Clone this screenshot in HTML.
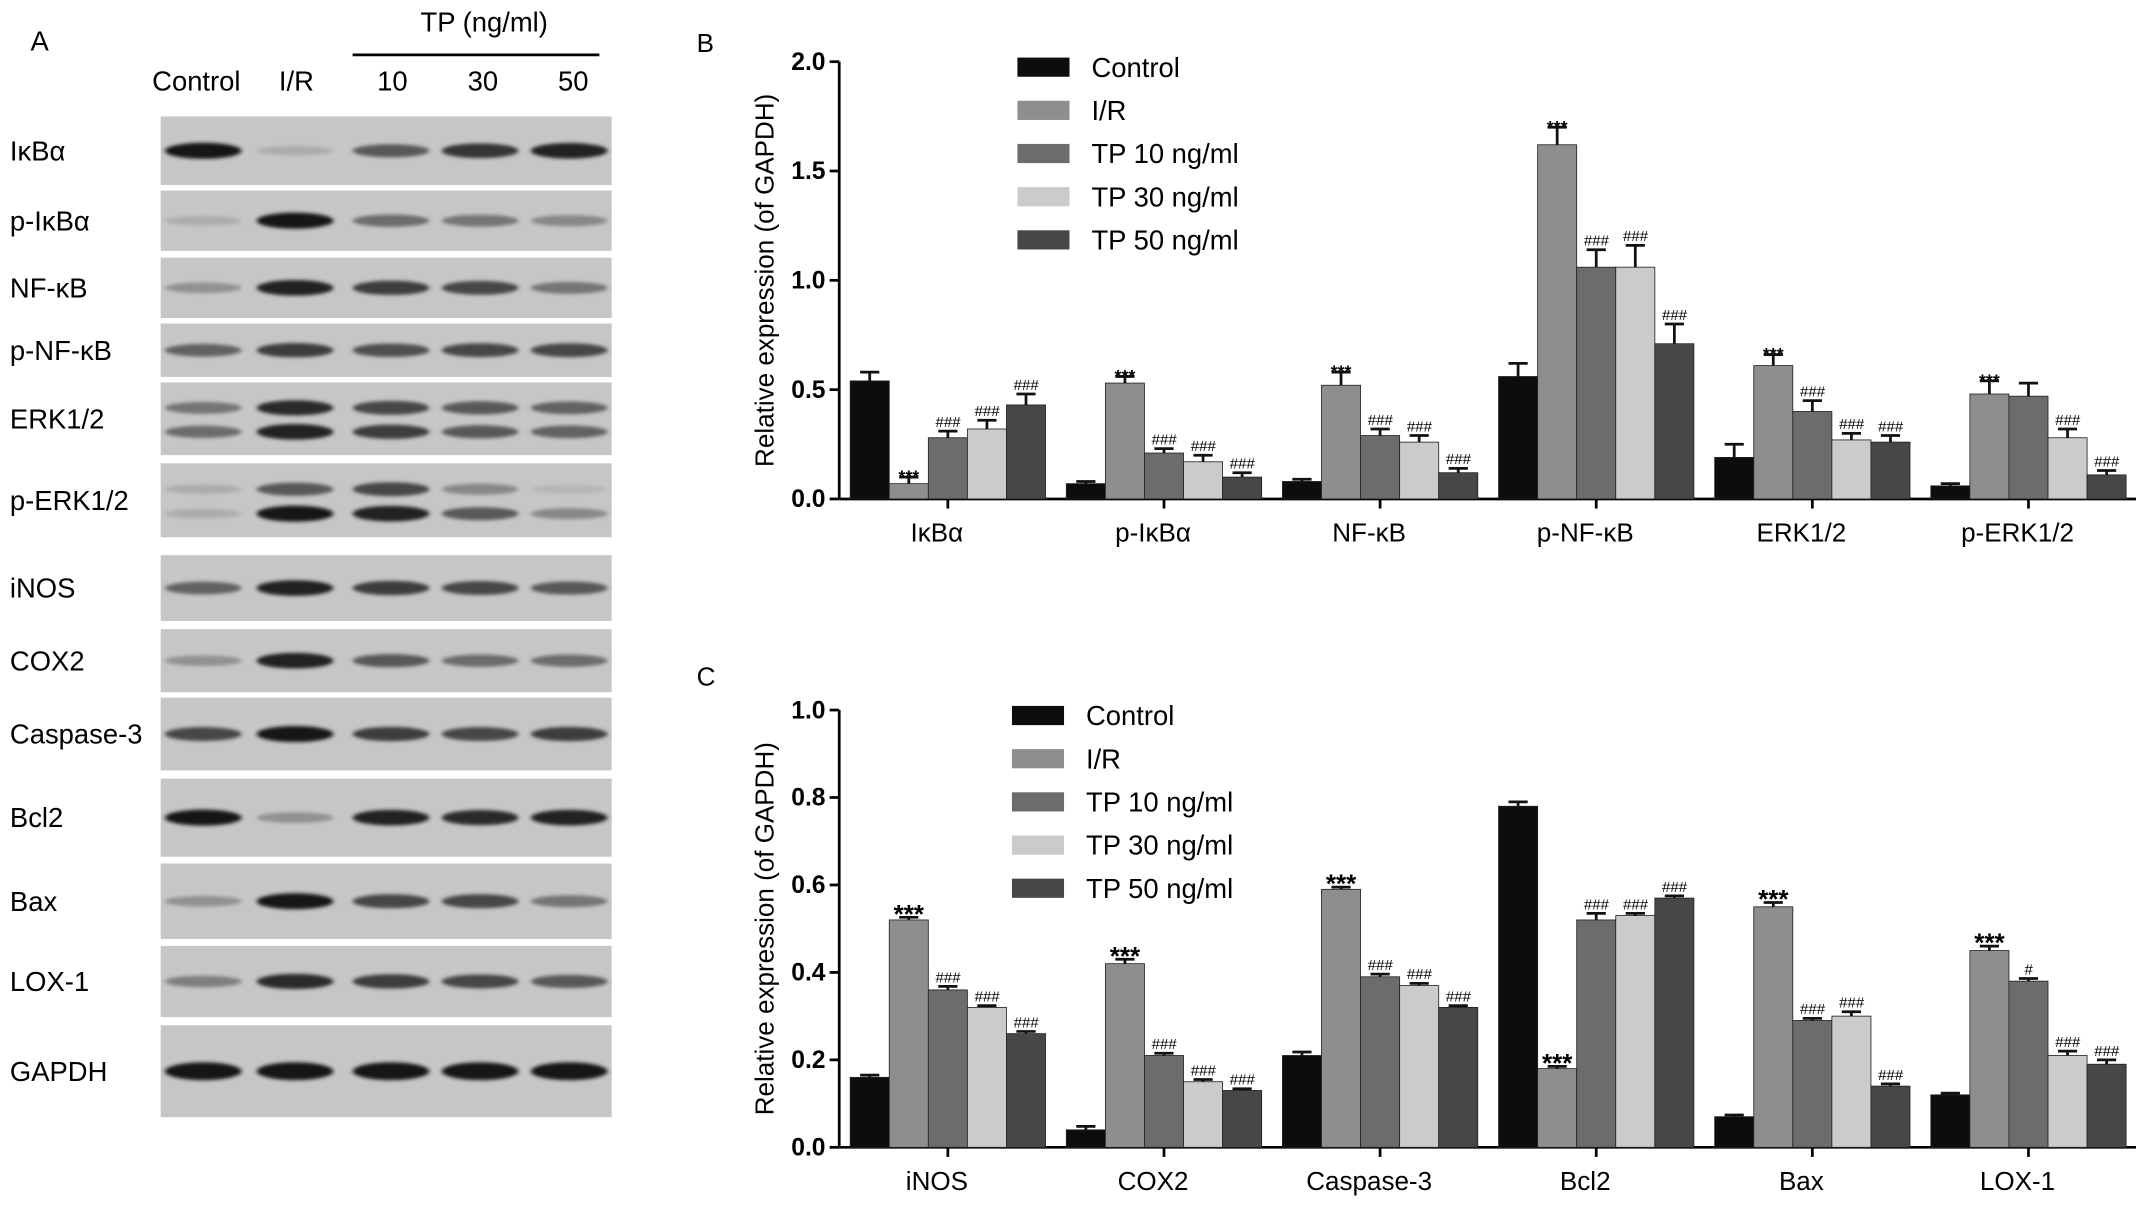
<!DOCTYPE html>
<html><head><meta charset="utf-8"><style>
html,body{margin:0;padding:0;background:#fff;}
svg{display:block;font-family:"Liberation Sans",Arial,sans-serif;}
</style></head><body>
<svg id="fig" width="2150" height="1209" viewBox="0 0 1568 882" xmlns="http://www.w3.org/2000/svg">
<defs><filter id="blur" x="-20%" y="-100%" width="140%" height="300%"><feGaussianBlur stdDeviation="1.6 1.4"/></filter></defs>
<g id="panelA"></g>
<g id="panelB"></g>
<g id="panelC"></g>
</svg>
<script>
const NS="http://www.w3.org/2000/svg";
// ---- chart data ----
const seriesNames=["Control","I/R","TP 10 ng/ml","TP 30 ng/ml","TP 50 ng/ml"];
const catsB=["IκBα","p-IκBα","NF-κB","p-NF-κB","ERK1/2","p-ERK1/2"];
const controlB=[0.54,0.07,0.08,0.56,0.19,0.06];
const irB=[0.07,0.53,0.52,1.62,0.61,0.48];
const tp10B=[0.28,0.21,0.29,1.06,0.40,0.47];
const tp30B=[0.32,0.17,0.26,1.06,0.27,0.28];
const tp50B=[0.43,0.10,0.12,0.71,0.26,0.11];
const errB=[[0.04,0.01,0.01,0.06,0.06,0.01],[0.03,0.03,0.06,0.08,0.05,0.06],[0.03,0.02,0.03,0.08,0.05,0.06],[0.04,0.03,0.03,0.10,0.03,0.04],[0.05,0.02,0.02,0.09,0.03,0.02]];
const marksB=[["","","","","",""],["***","***","***","***","***","***"],["###","###","###","###","###",""],["###","###","###","###","###","###"],["###","###","###","###","###","###"]];
const ticksB=[0.0,0.5,1.0,1.5,2.0];
const catsC=["iNOS","COX2","Caspase-3","Bcl2","Bax","LOX-1"];
const controlC=[0.16,0.04,0.21,0.78,0.07,0.12];
const irC=[0.52,0.42,0.59,0.18,0.55,0.45];
const tp10C=[0.36,0.21,0.39,0.52,0.29,0.38];
const tp30C=[0.32,0.15,0.37,0.53,0.30,0.21];
const tp50C=[0.26,0.13,0.32,0.57,0.14,0.19];
const errC=[[0.005,0.008,0.008,0.01,0.004,0.004],[0.006,0.01,0.005,0.005,0.01,0.01],[0.008,0.005,0.006,0.015,0.005,0.006],[0.004,0.005,0.005,0.005,0.01,0.01],[0.005,0.004,0.004,0.005,0.005,0.01]];
const marksC=[["","","","","",""],["***","***","***","***","***","***"],["###","###","###","###","###","#"],["###","###","###","###","###","###"],["###","###","###","###","###","###"]];
const ticksC=[0.0,0.2,0.4,0.6,0.8,1.0];
const colors=["#0d0d0d","#8e8e8e","#6c6c6c","#cbcbcb","#474747"];

function el(tag,attrs,parent,txt){const e=document.createElementNS(NS,tag);for(const k in attrs)e.setAttribute(k,attrs[k]);if(txt!==undefined)e.textContent=txt;parent.appendChild(e);return e;}

function chart(g,cfg){
  const {x0,x1,y0,yTop,vmax,ticks,cats,series,errs,marks,fmt,label,letter,legY,legX}=cfg;
  const ys=v=>y0-(v/vmax)*(y0-yTop);
  const gw=(x1-x0)/cats.length, bw=28.5, gx=i=>x0+8+i*gw;
  let t=el("text",{x:letter[0],y:letter[1],"font-size":19},g,label);
  
  
  let ax=el("line",{x1:x0,y1:yTop,x2:x0,y2:y0,stroke:"#000","stroke-width":2},g);
  
  
  let xa=el("line",{x1:x0,y1:y0,x2:x1,y2:y0,stroke:"#000","stroke-width":2},g);
  
  
  ticks.forEach(v=>{
    let tl=el("line",{x1:x0-7,y1:ys(v),x2:x0,y2:ys(v),stroke:"#000","stroke-width":2},g);
    
    
    let tt=el("text",{x:x0-10,y:ys(v)+6,"text-anchor":"end","font-size":18,"font-weight":"bold"},g,v.toFixed(1));
    
    
  });
  let yt=el("text",{transform:`translate(${x0-48},${(y0+yTop)/2}) rotate(-90)`,"text-anchor":"middle","font-size":19},g,"Relative expression (of GAPDH)");
  
  
  cats.forEach((c,i)=>{
    const cx=gx(i)+bw*2.5;
    let tk=el("line",{x1:cx,y1:y0,x2:cx,y2:y0+7,stroke:"#000","stroke-width":2},g);
    
    
    let lt=el("text",{x:cx-8,y:y0+31,"text-anchor":"middle","font-size":19},g,c);
    
    
    series.forEach((s,j)=>{
      const bx=gx(i)+j*bw, v=s[i], top=ys(v), e=errs[j][i], ey=ys(v+e);
      let r=el("rect",{x:bx,y:top,width:bw,height:y0-top,fill:colors[j],stroke:"#222","stroke-width":0.6},g);
      
      
      let eb=el("path",{d:`M${bx+bw/2},${top}V${ey}M${bx+bw/2-7},${ey}H${bx+bw/2+7}`,stroke:"#111","stroke-width":2,fill:"none"},g);
      
      
      const m=marks[j][i];
      if(m){
        const isStar=m[0]==="*";
        let mt=el("text",{x:bx+bw/2,y:ey-(isStar?-4:3),"text-anchor":"middle","font-size":isStar?cfg.starSize:11,"font-weight":isStar?"bold":"normal","font-style":isStar?"normal":"italic"},g,m);
        
        
      }
    });
  });
  seriesNames.forEach((n,j)=>{
    const yy=legY+j*31.5;
    let lr=el("rect",{x:legX,y:yy-7,width:38,height:14,fill:colors[j]},g);
    
    
    let lt=el("text",{x:legX+54,y:yy+7,"font-size":20},g,n);
    
    
  });
}
chart(document.getElementById("panelB"),{x0:612,x1:1558,y0:364,yTop:45,vmax:2.0,ticks:ticksB,cats:catsB,series:[controlB,irB,tp10B,tp30B,tp50B],errs:errB,marks:marksB,label:"B",letter:[508,38],legY:49,legX:742,starSize:13});
chart(document.getElementById("panelC"),{x0:612,x1:1558,y0:837,yTop:518,vmax:1.0,ticks:ticksC,cats:catsC,series:[controlC,irC,tp10C,tp30C,tp50C],errs:errC,marks:marksC,label:"C",letter:[508,500],legY:522,legX:738,starSize:19});

// ---- blot panel ----
const A=document.getElementById("panelA");
const lanes=[148,215,285,350,415];
const rows=[
 ["IκBα",85,135,[[0.95,0.15,0.6,0.8,0.9]]],
 ["p-IκBα",139,183,[[0.15,0.95,0.5,0.45,0.35]]],
 ["NF-κB",188,232,[[0.3,0.9,0.75,0.7,0.45]]],
 ["p-NF-κB",236,275,[[0.55,0.75,0.65,0.7,0.7]]],
 ["ERK1/2",279,332,[[0.45,0.85,0.7,0.6,0.55],[0.5,0.9,0.75,0.6,0.55]]],
 ["p-ERK1/2",338,392,[[0.15,0.6,0.7,0.35,0.1],[0.15,0.95,0.9,0.6,0.35]]],
 ["iNOS",405,453,[[0.55,0.9,0.75,0.7,0.6]]],
 ["COX2",459,505,[[0.3,0.9,0.6,0.5,0.5]]],
 ["Caspase-3",509,562,[[0.7,0.95,0.75,0.7,0.75]]],
 ["Bcl2",568,625,[[0.95,0.3,0.9,0.85,0.9]]],
 ["Bax",630,685,[[0.3,0.95,0.7,0.7,0.45]]],
 ["LOX-1",690,742,[[0.4,0.85,0.75,0.7,0.6]]],
 ["GAPDH",748,815,[[0.95,0.95,0.95,0.95,0.95]]]
];
let la=el("text",{x:22,y:37,"font-size":20},A,"A");


[["Control",143],["I/R",216],["10",286],["30",352],["50",418]].forEach(([t,x])=>{
  let h=el("text",{x:x,y:66,"text-anchor":"middle","font-size":20},A,t);
  
  
});
let tp=el("text",{x:353,y:23,"text-anchor":"middle","font-size":20},A,"TP (ng/ml)");


let tl=el("line",{x1:257,y1:40,x2:437,y2:40,stroke:"#000","stroke-width":2},A);


rows.forEach(([name,y1,y2,bands])=>{
  let bg=el("rect",{x:117,y:y1,width:329,height:y2-y1,fill:"#c6c6c6"},A);
  
  
  let lb=el("text",{x:7,y:(y1+y2)/2+7,"font-size":20},A,name);
  
  
  bands.forEach((b,k)=>{
    const by=bands.length===1?(y1+y2)/2:y1+(y2-y1)*(k===0?0.35:0.68);
    b.forEach((v,i)=>{
      const g=Math.round(200-185*v);
      let e=el("ellipse",{cx:lanes[i],cy:by,rx:28,ry:name==="GAPDH"?6.5:3+v*3,fill:`rgb(${g},${g},${g})`,filter:"url(#blur)"},A);
      
      
    });
  });
});
</script>
</body></html>
